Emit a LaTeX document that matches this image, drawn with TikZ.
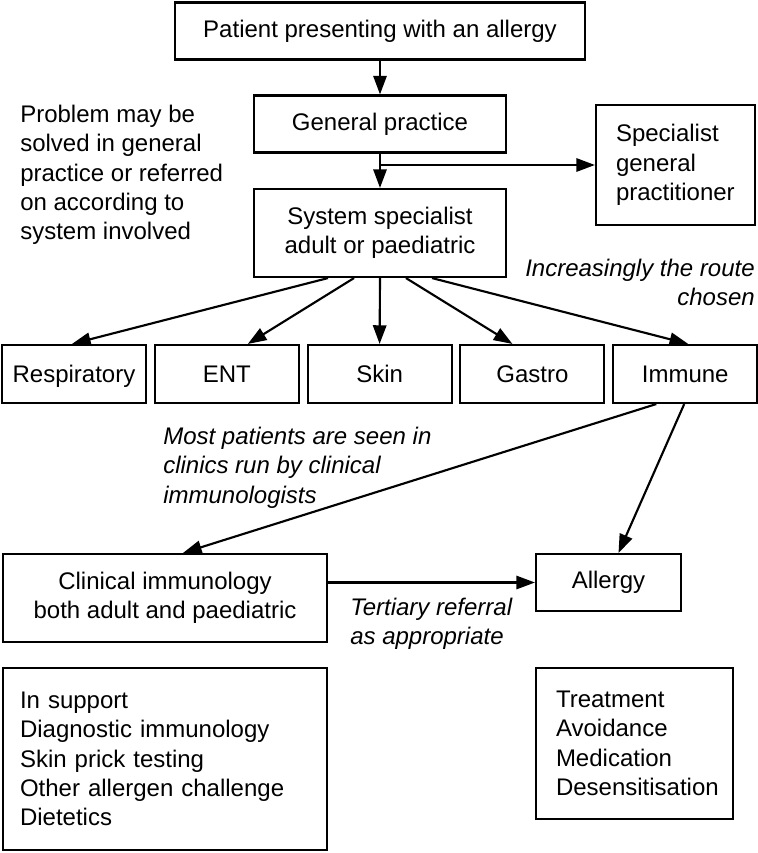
\documentclass[tikz,border=0pt]{standalone}
\usepackage{fontspec}
\setmainfont{Liberation Sans}
\usetikzlibrary{positioning, arrows.meta, calc}

\begin{document}
\begin{tikzpicture}[
    x=0.75pt, y=-0.75pt, % one unit = one pixel, y going down
    >={Triangle[length=14pt, width=10pt]},
    font=\fontsize{18}{22}\selectfont,
    % Styles
    box/.style={ % plain box
        rectangle,
        draw,
        line width=1.6pt,
        inner sep=2pt,
        align=center,
        minimum height=42.75pt
    },
    listbox/.style={ % box with left aligned lines
        box,
        align=left,
        inner xsep=15pt
    },
    sysbox/.style={ % one of the five systems
        box,
        minimum width=108pt,
        minimum height=43.5pt,
        text height=15pt,
        text depth=2pt
    },
    remark/.style={ % free text
        inner sep=0pt,
        align=left
    },
    note/.style={ % italic remark
        remark,
        font=\fontsize{18}{22}\selectfont\itshape
    },
    arrow/.style={
        ->,
        line width=1.6pt
    }
]

    \useasboundingbox (0,0) rectangle (757,853);

    % Main route
    \node[box, minimum width=307.5pt] (patient) at (380,31) {Patient presenting with an allergy};
    \node[box, minimum width=189pt] (gp) at (380,124) {General practice};
    \node[box, minimum width=189pt, minimum height=66pt] (sys) at (380,233) {System specialist\\adult or paediatric};
    \node[listbox, text width=89.25pt, minimum height=90pt] (spec) at (675.5,165) {Specialist\\general\\practitioner};

    \draw[arrow] (patient) -- (gp);
    \draw[arrow] (gp) -- (sys);
    \draw[arrow] (gp.south |- spec.west) -- (spec.west);

    % Systems
    \node[sysbox] (resp) at (74,374) {Respiratory};
    \node[sysbox, right=5pt of resp] (ent) {ENT};
    \node[sysbox, right=5pt of ent] (skin) {Skin};
    \node[sysbox, right=5pt of skin] (gastro) {Gastro};
    \node[sysbox, right=5pt of gastro] (immune) {Immune};

    \foreach \n/\s/\e in {resp/-52/-2, ent/-26/21, skin/0/0, gastro/26/-20, immune/52/3} {
        \draw[arrow] ($(sys.south)+(\s,0)$) -- ($(\n.north)+(\e,0)$);
    }

    % Clinical immunology and allergy
    \node[box, minimum width=243pt, minimum height=66pt] (clin) at (165,598) {Clinical immunology\\both adult and paediatric};
    \node[box, minimum width=108.75pt] (allergy) at (608.5,582.5) {Allergy};

    \draw[arrow] ($(immune.south)+(-29,0)$) -- ($(clin.north)+(18,0)$);
    \draw[arrow] ($(immune.south)+(-1,0)$) -- ($(allergy.north)+(10,0)$);
    \draw[arrow] (clin.east |- allergy.west) -- (allergy.west);

    % Support and treatment lists
    \node[listbox, inner xsep=12.75pt, text width=217.5pt, minimum height=136.5pt] (support) at (165,759)
        {In support\\Diagnostic immunology\\Skin prick testing\\Other allergen challenge\\Dietetics};
    \node[listbox, text width=117.75pt, minimum height=113.25pt] (treat) at (634.5,743.5)
        {Treatment\\Avoidance\\Medication\\Desensitisation};

    % Remarks
    \node[remark, anchor=north west] (solved) at (20,105)
        {Problem may be\\solved in general\\practice or referred\\on according to\\system involved};
    \node[note, anchor=north east, align=right] (route) at (755,259) {Increasingly the route\\chosen};
    \node[note, anchor=north west] (most) at (163,427)
        {Most patients are seen in\\clinics run by clinical\\immunologists};
    \node[note, anchor=north west] (tertiary) at (350,598) {Tertiary referral\\as appropriate};

\end{tikzpicture}
\end{document}
